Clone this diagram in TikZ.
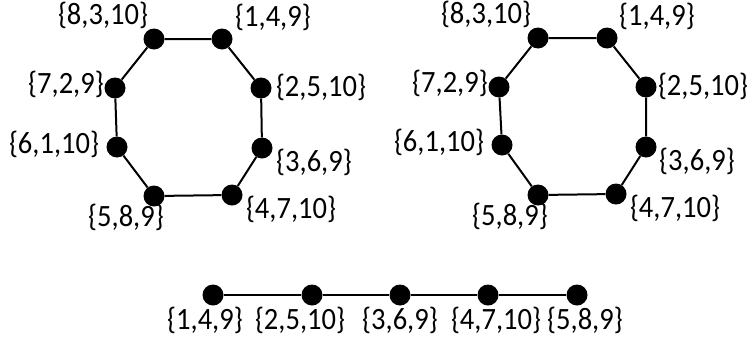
\documentclass[tikz,border=0pt]{standalone}
\usepackage{fontspec}
\setmainfont{Carlito}[FakeStretch=0.92]
\begin{document}
\begin{tikzpicture}[x=1pt,y=-1pt,
  vtx/.style={circle,fill=black,inner sep=0pt,minimum size=21pt},
  lbl/.style={inner sep=0pt,font=\fontsize{31}{34}\selectfont},
  edge/.style={line width=2pt}]
\useasboundingbox (0,0) rectangle (751,343);
% left octagon
\node[vtx] (a1) at (154,39) {};
\node[vtx] (a2) at (222,39) {};
\node[vtx] (a3) at (261,88) {};
\node[vtx] (a4) at (262,148) {};
\node[vtx] (a5) at (232,195) {};
\node[vtx] (a6) at (154,196) {};
\node[vtx] (a7) at (117,147) {};
\node[vtx] (a8) at (115,88) {};
\draw[edge] (a1)--(a2)--(a3)--(a4)--(a5)--(a6)--(a7)--(a8)--(a1);
\node[lbl] (la1) at (103,15) {\{8,3,10\}};
\node[lbl] (la2) at (273,17) {\{1,4,9\}};
\node[lbl] (la3) at (321,87) {\{2,5,10\}};
\node[lbl] (la4) at (314,162) {\{3,6,9\}};
\node[lbl] (la5) at (291,209) {\{4,7,10\}};
\node[lbl] (la6) at (126,217) {\{5,8,9\}};
\node[lbl] (la7) at (54,144) {\{6,1,10\}};
\node[lbl] (la8) at (66,84) {\{7,2,9\}};
% right octagon
\node[vtx] (b1) at (538,38) {};
\node[vtx] (b2) at (607,38) {};
\node[vtx] (b3) at (646,87) {};
\node[vtx] (b4) at (646,147) {};
\node[vtx] (b5) at (616,194) {};
\node[vtx] (b6) at (538,195) {};
\node[vtx] (b7) at (502,145) {};
\node[vtx] (b8) at (499,87) {};
\draw[edge] (b1)--(b2)--(b3)--(b4)--(b5)--(b6)--(b7)--(b8)--(b1);
\node[lbl] (lb1) at (486,14) {\{8,3,10\}};
\node[lbl] (lb2) at (657,16) {\{1,4,9\}};
\node[lbl] (lb3) at (703,86) {\{2,5,10\}};
\node[lbl] (lb4) at (697,161) {\{3,6,9\}};
\node[lbl] (lb5) at (675,208) {\{4,7,10\}};
\node[lbl] (lb6) at (510,216) {\{5,8,9\}};
\node[lbl] (lb7) at (439,142) {\{6,1,10\}};
\node[lbl] (lb8) at (450,83) {\{7,2,9\}};
% path
\node[vtx] (c1) at (213,295) {};
\node[vtx] (c2) at (312,295) {};
\node[vtx] (c3) at (400,295) {};
\node[vtx] (c4) at (488,295) {};
\node[vtx] (c5) at (577,295) {};
\draw[edge] (c1)--(c2)--(c3)--(c4)--(c5);
\node[lbl] (lc1) at (205,320) {\{1,4,9\}};
\node[lbl] (lc2) at (300,320) {\{2,5,10\}};
\node[lbl] (lc3) at (400,320) {\{3,6,9\}};
\node[lbl] (lc4) at (496,320) {\{4,7,10\}};
\node[lbl] (lc5) at (585,320) {\{5,8,9\}};
\end{tikzpicture}
\end{document}
